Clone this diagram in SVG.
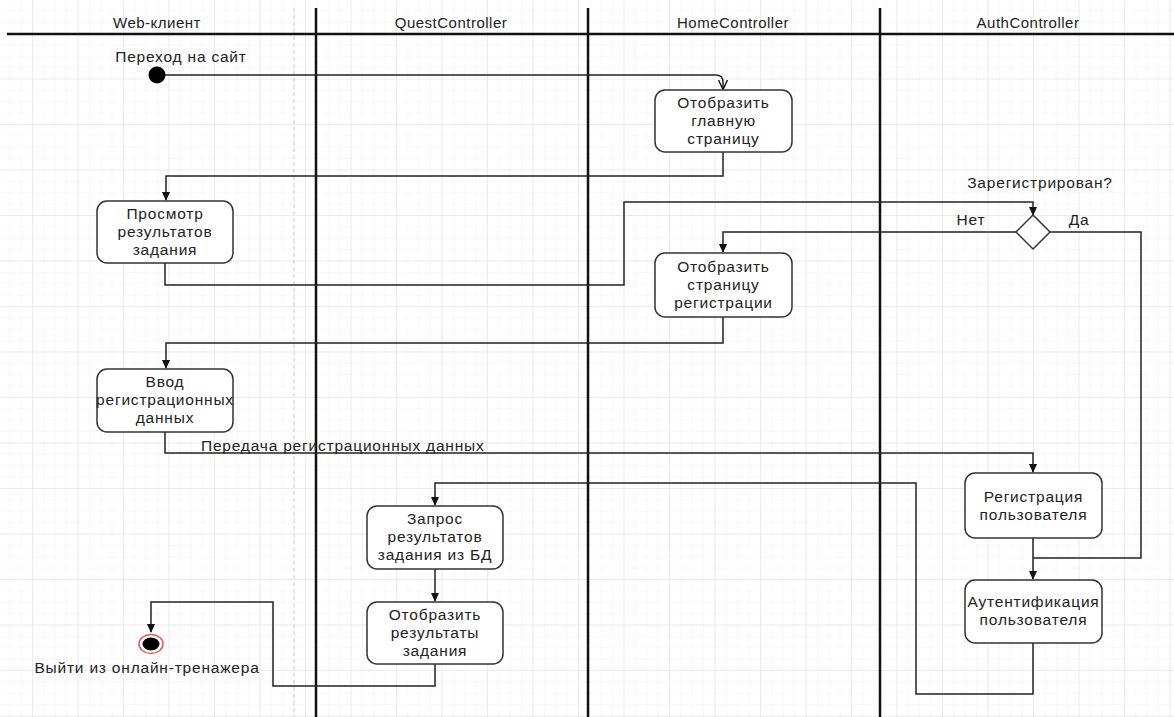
<svg xmlns="http://www.w3.org/2000/svg" width="1174" height="717" viewBox="0 0 1174 717">
  <defs>
    <pattern id="gridMinor" x="32" y="33" width="11.375" height="11.375" patternUnits="userSpaceOnUse">
      <path d="M0,0 H11.375 M0,0 V11.375" fill="none" stroke="#f1f1f1" stroke-width="1"/>
    </pattern>
    <pattern id="gridMajor" x="32" y="33" width="45.5" height="45.5" patternUnits="userSpaceOnUse">
      <path d="M0,0 H45.5 M0,0 V45.5" fill="none" stroke="#e0e0e0" stroke-width="1"/>
    </pattern>
    <marker id="arrowFilled" viewBox="0 0 10 10" refX="9" refY="5" markerWidth="9" markerHeight="9" markerUnits="userSpaceOnUse" orient="auto">
      <path d="M0,0.5 L10,5 L0,9.5 Z" fill="#111"/>
    </marker>
    <marker id="arrowOpen" viewBox="0 0 10 10" refX="9" refY="5" markerWidth="10" markerHeight="10" markerUnits="userSpaceOnUse" orient="auto">
      <path d="M0,0.5 L9.5,5 L0,9.5" fill="none" stroke="#111" stroke-width="1.4"/>
    </marker>
  </defs>
  <style>
    text { font-family: "Liberation Sans", Arial, sans-serif; fill: #222; font-size: 15.5px; letter-spacing: 0.8px; }
    .lane-title { text-anchor: middle; font-size: 15px; letter-spacing: 0.5px; }
    .node rect { fill: #ffffff; stroke: #333; stroke-width: 1.5; }
    .node text { text-anchor: middle; }
    .lane { stroke: #111; stroke-width: 2.5; fill: none; }
    .edge { fill: none; stroke: #222; stroke-width: 1.5; }
    .label { text-anchor: middle; }
  </style>

  <!-- canvas with grid -->
  <rect x="0" y="0" width="1174" height="717" fill="#ffffff"/>
  <rect x="0" y="0" width="1174" height="717" fill="url(#gridMinor)"/>
  <rect x="0" y="0" width="1174" height="717" fill="url(#gridMajor)"/>

  <!-- swimlanes -->
  <g id="lanes">
    <line x1="294" y1="8" x2="294" y2="717" stroke="#cfcfcf" stroke-width="1" stroke-dasharray="4 3"/>
    <line class="lane" x1="7" y1="34" x2="1174" y2="34"/>
    <line class="lane" x1="316" y1="8" x2="316" y2="717"/>
    <line class="lane" x1="588" y1="8" x2="588" y2="717"/>
    <line class="lane" x1="880" y1="8" x2="880" y2="717"/>
    <text class="lane-title" x="157" y="28">Web-клиент</text>
    <text class="lane-title" x="451" y="28">QuestController</text>
    <text class="lane-title" x="733" y="28">HomeController</text>
    <text class="lane-title" x="1028" y="28">AuthController</text>
  </g>

  <!-- connectors -->
  <g id="connectors">
    <path class="edge" d="M157,75 H716 Q723,75 723,82 V89" marker-end="url(#arrowOpen)"/>
    <path class="edge" d="M723,152 V176 H166 V200" marker-end="url(#arrowFilled)"/>
    <path class="edge" d="M165,263 V285 H624 V202 H1033 V215" marker-end="url(#arrowFilled)"/>
    <path class="edge" d="M1016,232 H723 V252" marker-end="url(#arrowFilled)"/>
    <path class="edge" d="M1050,232 H1141 V558 H1033"/>
    <path class="edge" d="M1033,538 V579" marker-end="url(#arrowFilled)"/>
    <path class="edge" d="M723,317 V343 H166 V368" marker-end="url(#arrowFilled)"/>
    <path class="edge" d="M165,432 V453 H1033 V472" marker-end="url(#arrowFilled)"/>
    <path class="edge" d="M1033,643 V694 H916 V483 H435 V505" marker-end="url(#arrowFilled)"/>
    <path class="edge" d="M435,569 V601" marker-end="url(#arrowFilled)"/>
    <path class="edge" d="M435,664 V686 H273 V602 H151 V632" marker-end="url(#arrowFilled)"/>
    <text x="201" y="451">Передача регистрационных данных</text>
  </g>

  <!-- start -->
  <g id="start">
    <circle cx="157" cy="75" r="8.5" fill="#000"/>
    <text class="label" x="181" y="62">Переход на сайт</text>
  </g>

  <g id="home-main" class="node">
    <rect x="655" y="90" width="137" height="62" rx="10"/>
    <text x="723.5" y="108">Отобразить</text>
    <text x="723.5" y="126">главную</text>
    <text x="723.5" y="144">страницу</text>
  </g>

  <g id="view-results" class="node">
    <rect x="97" y="201" width="136" height="62" rx="10"/>
    <text x="165" y="219">Просмотр</text>
    <text x="165" y="237">результатов</text>
    <text x="165" y="255">задания</text>
  </g>

  <g id="decision">
    <polygon points="1033,215 1050,232 1033,249 1016,232" fill="#fff" stroke="#333" stroke-width="1.5"/>
    <text class="label" x="1040" y="188">Зарегистрирован?</text>
    <text class="label" x="971" y="225">Нет</text>
    <text class="label" x="1079" y="225">Да</text>
  </g>

  <g id="home-register" class="node">
    <rect x="655" y="253" width="137" height="64" rx="10"/>
    <text x="723.5" y="272">Отобразить</text>
    <text x="723.5" y="290">страницу</text>
    <text x="723.5" y="308">регистрации</text>
  </g>

  <g id="input-data" class="node">
    <rect x="97" y="369" width="136" height="63" rx="10"/>
    <text x="165" y="387">Ввод</text>
    <text x="165" y="405">регистрационных</text>
    <text x="165" y="423">данных</text>
  </g>

  <g id="register-user" class="node">
    <rect x="965" y="473" width="137" height="65" rx="10"/>
    <text x="1033.5" y="502">Регистрация</text>
    <text x="1033.5" y="520">пользователя</text>
  </g>

  <g id="auth-user" class="node">
    <rect x="965" y="580" width="137" height="63" rx="10"/>
    <text x="1033.5" y="607">Аутентификация</text>
    <text x="1033.5" y="625">пользователя</text>
  </g>

  <g id="query-results" class="node">
    <rect x="367" y="506" width="136" height="63" rx="10"/>
    <text x="435" y="524">Запрос</text>
    <text x="435" y="542">результатов</text>
    <text x="435" y="560">задания из БД</text>
  </g>

  <g id="show-results" class="node">
    <rect x="367" y="602" width="136" height="62" rx="10"/>
    <text x="435" y="620">Отобразить</text>
    <text x="435" y="638">результаты</text>
    <text x="435" y="656">задания</text>
  </g>

  <!-- end -->
  <g id="end">
    <ellipse cx="151" cy="644" rx="12" ry="9.5" fill="#fff" stroke="#e05a5a" stroke-width="1.5"/>
    <ellipse cx="151" cy="644" rx="8.5" ry="6.5" fill="#000"/>
    <text class="label" x="147" y="673">Выйти из онлайн-тренажера</text>
  </g>
</svg>
